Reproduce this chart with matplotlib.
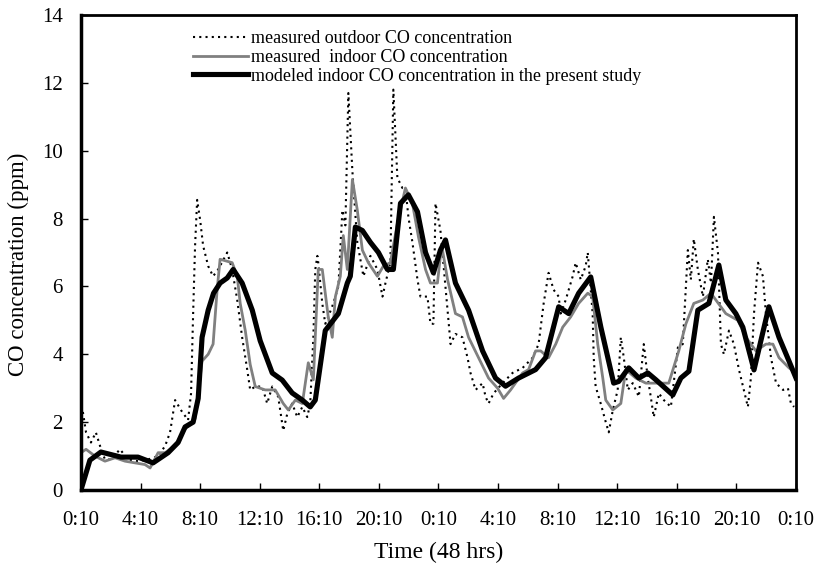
import matplotlib
matplotlib.use("Agg")
import matplotlib.pyplot as plt

# ------------------------------------------------------------------ #
# Data (hours since 0:10, CO in ppm)
# ------------------------------------------------------------------ #
tick_labels = ["0:10", "4:10", "8:10", "12:10", "16:10", "20:10", "0:10",
               "4:10", "8:10", "12:10", "16:10", "20:10", "0:10"]
tick_hours = [0, 4, 8, 12, 16, 20, 24, 28, 32, 36, 40, 44, 48]

outdoor_t = [0.13, 0.34, 0.67, 1.0, 1.28, 1.61, 2.02, 2.62, 3.16, 3.83, 4.5, 5.18,
             5.65, 5.98, 6.32, 6.72, 7.19, 7.39, 7.53, 7.66, 7.8, 8.0, 8.2, 8.54,
             8.87, 9.21, 9.82, 10.15, 10.49, 10.82, 11.16, 11.36, 11.7, 12.17, 12.5,
             12.84, 13.24, 13.58, 13.85, 14.18, 14.52, 14.86, 15.19, 15.39, 15.6,
             15.73, 15.87, 15.93, 16.2, 16.4, 16.6, 16.94, 17.28, 17.55, 17.75,
             17.95, 18.22, 18.55, 18.96, 19.43, 19.9, 20.24, 20.44, 20.77, 20.97,
             21.24, 21.58, 21.78, 21.98, 22.25, 22.59, 22.79, 23.26, 23.46, 23.66,
             23.8, 24.13, 24.47, 24.67, 24.81, 25.14, 25.61, 25.95, 26.15, 26.49,
             26.96, 27.16, 27.36, 27.7, 28.3, 28.97, 29.65, 30.32, 30.72, 31.06,
             31.39, 31.73, 32.07, 32.2, 32.54, 33.01, 33.21, 33.55, 33.88, 34.02,
             34.35, 34.42, 34.55, 34.89, 35.23, 35.43, 35.7, 36.03, 36.24, 36.44,
             36.71, 37.04, 37.45, 37.78, 38.05, 38.25, 38.45, 38.79, 39.13, 39.6,
             40.07, 40.4, 40.74, 40.94, 41.14, 41.41, 41.75, 42.08, 42.29, 42.49,
             42.76, 42.96, 43.16, 43.5, 43.83, 44.17, 44.5, 44.77, 44.97, 45.18,
             45.45, 45.78, 45.98, 46.32, 46.66, 47.13, 47.46, 47.66, 47.87]
outdoor_co = [2.3, 1.7, 1.4, 1.7, 1.3, 0.9, 0.9, 1.2, 0.9, 0.85, 0.9, 1.0,
              1.3, 1.7, 2.65, 2.35, 2.06, 2.85, 5.2, 7.2, 8.55, 7.96, 7.2, 6.6,
              6.3, 6.5, 7.0, 6.5, 5.6, 4.5, 3.55, 2.95, 3.05, 3.05, 2.55,
              3.05, 2.75, 1.75, 2.25, 2.55, 2.15, 2.45, 2.15, 2.55, 4.5,
              6.5, 6.9, 6.7, 5.5, 4.9, 5.1, 5.5, 6.0, 8.25, 7.8,
              11.7, 9.4, 7.3, 6.3, 6.9, 6.5, 5.7, 6.1, 6.7, 11.8,
              9.2, 8.9, 8.9, 8.05, 7.3, 6.2, 5.7, 5.7, 4.9, 4.9,
              8.45, 7.65, 6.0, 5.0, 4.3, 4.6, 4.5, 3.9, 3.45, 2.95,
              3.15, 2.75, 2.55, 2.85, 3.15, 3.45, 3.6, 3.9, 4.3, 5.5,
              6.4, 5.9, 5.7, 5.2, 5.6, 6.3, 6.7, 6.2, 6.6, 7.0,
              5.2, 3.9, 3.05, 2.55, 2.0, 1.7, 2.35, 2.95, 4.5, 3.9,
              2.95, 3.15, 2.75, 4.3, 3.3, 2.75, 2.15, 2.85, 2.65, 2.45,
              4.2, 4.3, 7.07, 6.2, 7.4, 6.5, 5.7, 6.8, 6.1, 8.05,
              7.0, 4.3, 4.0, 4.7, 4.3, 3.55, 2.95, 2.45, 3.3, 5.2,
              6.7, 6.3, 5.2, 3.9, 3.15, 2.95, 3.0, 2.55, 2.45]

indoor_t = [0, 0.34, 0.94, 1.61, 2.29, 2.96, 3.63, 4.3, 4.64, 5.18, 5.65, 6.32,
            6.99, 7.53, 7.66, 8.13, 8.54, 8.87, 9.14, 9.34, 10.15, 10.49, 10.69,
            11.03, 11.36, 11.7, 12.37, 13.04, 13.58, 13.92, 14.39, 14.86, 15.26,
            15.6, 15.93, 16.2, 16.6, 16.87, 17.08, 17.41, 17.61, 17.88, 18.22,
            18.55, 18.89, 19.29, 19.9, 20.3, 20.77, 21.24, 21.78, 22.25, 22.66,
            23.13, 23.46, 23.93, 24.13, 24.27, 24.61, 25.14, 25.61, 26.02, 26.69,
            27.36, 27.97, 28.37, 28.84, 29.65, 30.05, 30.52, 30.86, 31.39, 31.87,
            32.34, 32.87, 33.41, 34.02, 34.35, 34.69, 35.03, 35.23, 35.7, 36.24,
            36.57, 37.24, 37.92, 38.59, 39.46, 40.13, 40.61, 41.14, 41.75, 42.29,
            42.62, 43.29, 44.1, 44.64, 45.31, 45.98, 46.45, 46.86, 47.53, 48.0]
indoor_co = [1.1, 1.2, 1.0, 0.85, 0.95, 0.85, 0.8, 0.75, 0.65, 1.1, 1.1, 1.3,
             1.8, 2.0, 2.1, 3.8, 4.0, 4.3, 5.9, 6.8, 6.7, 6.3, 5.5,
             4.7, 3.7, 3.05, 2.95, 2.95, 2.55, 2.36, 2.65, 2.55, 3.75,
             3.25, 6.5, 6.5, 5.1, 4.5, 5.7, 6.3, 7.5, 6.5, 9.15,
             8.25, 7.07, 6.7, 6.3, 6.6, 6.7, 7.85, 8.9, 8.45, 7.45,
             6.5, 6.1, 6.1, 6.9, 7.07, 6.2, 5.2, 5.1, 4.5, 3.9,
             3.3, 3.0, 2.7, 2.95, 3.45, 3.55, 4.1, 4.1, 3.9, 4.3,
             4.8, 5.1, 5.5, 5.8, 5.7, 4.3, 3.3, 2.65, 2.36, 2.55,
             3.55, 3.3, 3.15, 3.15, 3.15, 4.1, 4.9, 5.5, 5.6, 5.8,
             5.6, 5.2, 5.0, 4.5, 4.1, 4.3, 4.3, 3.9, 3.6, 3.45]

model_t = [0, 0.6, 1.34, 2.69, 3.83, 4.84, 5.85, 6.52, 6.99, 7.53, 7.87, 8.13,
           8.54, 8.9, 9.34, 9.82, 10.22, 10.82, 11.5, 12.03, 12.84, 13.51, 14.18,
           14.86, 15.39, 15.73, 16.4, 17.28, 17.88, 18.08, 18.42, 18.89, 19.43,
           19.97, 20.57, 20.97, 21.45, 21.98, 22.59, 23.13, 23.66, 24.13, 24.47,
           25.14, 26.02, 26.96, 27.83, 28.5, 29.38, 30.52, 31.19, 31.66, 32.07,
           32.74, 33.41, 34.22, 34.9, 35.76, 36.1, 36.77, 37.45, 38.05, 38.59,
           39.73, 40.27, 40.81, 41.41, 42.15, 42.82, 43.29, 43.96, 44.43, 45.18,
           46.18, 46.86, 47.53, 48.0]
model_co = [0, 0.88, 1.12, 0.97, 0.97, 0.8, 1.1, 1.4, 1.86, 2.0, 2.7, 4.5,
            5.3, 5.8, 6.1, 6.25, 6.5, 6.1, 5.3, 4.4, 3.45, 3.24, 2.86,
            2.65, 2.45, 2.65, 4.7, 5.2, 6.1, 6.3, 7.75, 7.65, 7.3,
            7.0, 6.5, 6.5, 8.45, 8.7, 8.2, 7.0, 6.4, 7.07, 7.37,
            6.1, 5.3, 4.1, 3.3, 3.06, 3.3, 3.55, 3.9, 4.7, 5.4,
            5.2, 5.8, 6.28, 4.8, 3.15, 3.2, 3.6, 3.3, 3.45, 3.25,
            2.8, 3.3, 3.5, 5.3, 5.5, 6.63, 5.6, 5.2, 4.8, 3.54,
            5.4, 4.5, 3.8, 3.3]

# ------------------------------------------------------------------ #
# Figure
# ------------------------------------------------------------------ #
plt.rcParams["font.family"] = ["Liberation Serif", "DejaVu Serif"]

fig = plt.figure(figsize=(8.17, 5.74), dpi=100)
ax = fig.add_axes([0.0991, 0.1463, 0.8752, 0.8276])

ax.plot(outdoor_t, outdoor_co, color="black", linewidth=1.5,
        linestyle=(0, (1, 2)), label="measured outdoor CO concentration")
ax.plot(indoor_t, indoor_co, color="#808080", linewidth=2.0,
        label="measured  indoor CO concentration")
ax.plot(model_t, model_co, color="black", linewidth=3.7,
        solid_joinstyle="round",
        label="modeled indoor CO concentration in the present study")

ax.set_xlim(0, 48)
ax.set_ylim(0, 14)
ax.set_xticks(tick_hours)
ax.set_xticklabels(tick_labels)
ax.set_yticks(range(0, 15, 2))
ax.tick_params(direction="in", length=5, width=1, labelsize=15)
ax.tick_params(axis="x", pad=15)
ax.tick_params(axis="y", pad=13)

for side in ["left", "bottom"]:
    ax.spines[side].set_linewidth(2.5)
for side in ["top", "right"]:
    ax.spines[side].set_linewidth(2.0)

ax.set_xlabel("Time (48 hrs)", fontsize=17, labelpad=9)
ax.set_ylabel("CO concentration (ppm)", fontsize=16.5)
ax.yaxis.set_label_coords(-0.072, 0.475)

ax.legend(loc="upper left", bbox_to_anchor=(0.156, 0.968), frameon=False,
          fontsize=13, handlelength=3.05, handletextpad=0.2, borderpad=0,
          borderaxespad=0, labelspacing=0.1)

fig.savefig("out.png", dpi=100)
